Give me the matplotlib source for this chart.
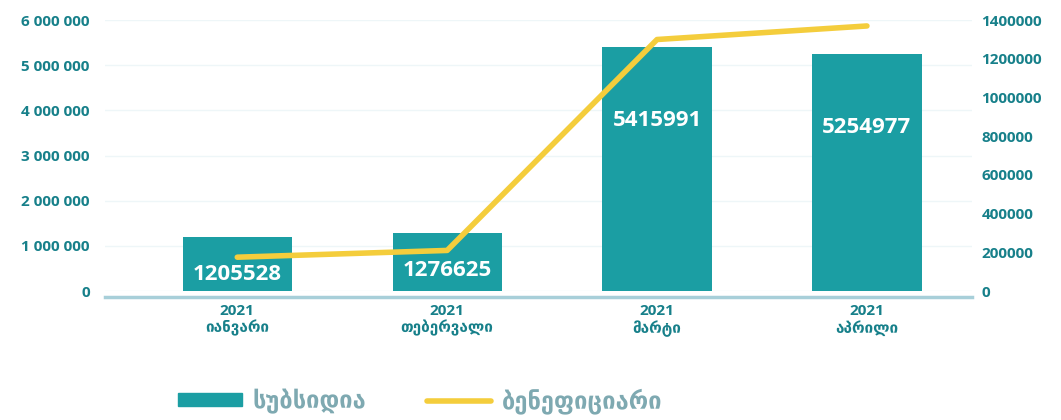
import matplotlib
matplotlib.use("Agg")
import matplotlib.pyplot as plt
from matplotlib.patches import Patch
from matplotlib.lines import Line2D
from matplotlib.ticker import FuncFormatter

plt.rcParams['font.family'] = ['Open Sans', 'DejaVu Sans']
plt.rcParams['font.weight'] = 'bold'

years = ["2021", "2021", "2021", "2021"]
months = ["იანვარი", "თებერვალი", "მარტი", "აპრილი"]
subsidy = [1205528, 1276625, 5415991, 5254977]
beneficiaries = [175000, 210000, 1300000, 1370000]

left_ticks = [0, 1000000, 2000000, 3000000, 4000000, 5000000, 6000000]
right_ticks = [0, 200000, 400000, 600000, 800000, 1000000, 1200000, 1400000]

BAR = "#1b9ea3"
LINE = "#f4cd3c"
TICK = "#17808a"
LEGEND_TXT = "#7ea9b1"

fig = plt.figure(figsize=(10.61, 4.20), dpi=100)
ax = fig.add_axes([0.099, 0.307, 0.817, 0.645])
ax2 = ax.twinx()

x = list(range(len(subsidy)))
ax.bar(x, subsidy, width=0.52, color=BAR, zorder=2)
for xi, v in zip(x, subsidy):
    off = -27 if v < 3000000 else -53
    ax.annotate(str(v), (xi, v), xytext=(0, off), textcoords="offset points",
                ha="center", va="center", color="white", fontsize=16,
                fontweight="bold")

ax2.plot(x, beneficiaries, color=LINE, lw=4, solid_capstyle="round", zorder=3)

ax.set_xlim(-0.63, 3.5)
ax.set_ylim(0, 6000000)
ax2.set_ylim(0, 1400000)
ax.set_yticks(left_ticks)
ax2.set_yticks(right_ticks)
ax.yaxis.set_major_formatter(FuncFormatter(lambda v, p: f"{int(v):,}".replace(",", " ")))
ax2.yaxis.set_major_formatter(FuncFormatter(lambda v, p: f"{int(v)}"))

ax.set_xticks(x)
ax.set_xticklabels([f"{y}\n{m}" for y, m in zip(years, months)],
                   linespacing=1.25, fontweight="bold")
ax.grid(axis="y", color="#eef6f8", lw=1, zorder=0)
ax.set_axisbelow(True)

for a in (ax, ax2):
    for s in ("top", "left", "right", "bottom"):
        a.spines[s].set_visible(False)
    a.tick_params(length=0, labelsize=11, labelcolor=TICK)

ax.spines["bottom"].set_visible(True)
ax.spines["bottom"].set_color("#a7cfd9")
ax.spines["bottom"].set_linewidth(2.5)
ax.spines["bottom"].set_position(("outward", 4))
ax.tick_params(axis="y", pad=11)
ax.tick_params(axis="x", pad=5)
ax2.tick_params(axis="y", pad=7)

handles = [Patch(color=BAR), Line2D([0], [0], color=LINE, lw=4, solid_capstyle="round")]
leg = fig.legend(handles, ["სუბსიდია", "ბენეფიციარი"], loc="center",
                 bbox_to_anchor=(0.396, 0.045), ncol=2, frameon=False,
                 fontsize=17, handlelength=2.7, handleheight=0.45,
                 handletextpad=0.45, columnspacing=2.6)
for t in leg.get_texts():
    t.set_color(LEGEND_TXT)
    t.set_fontweight("bold")

fig.savefig("out.png", dpi=100)
